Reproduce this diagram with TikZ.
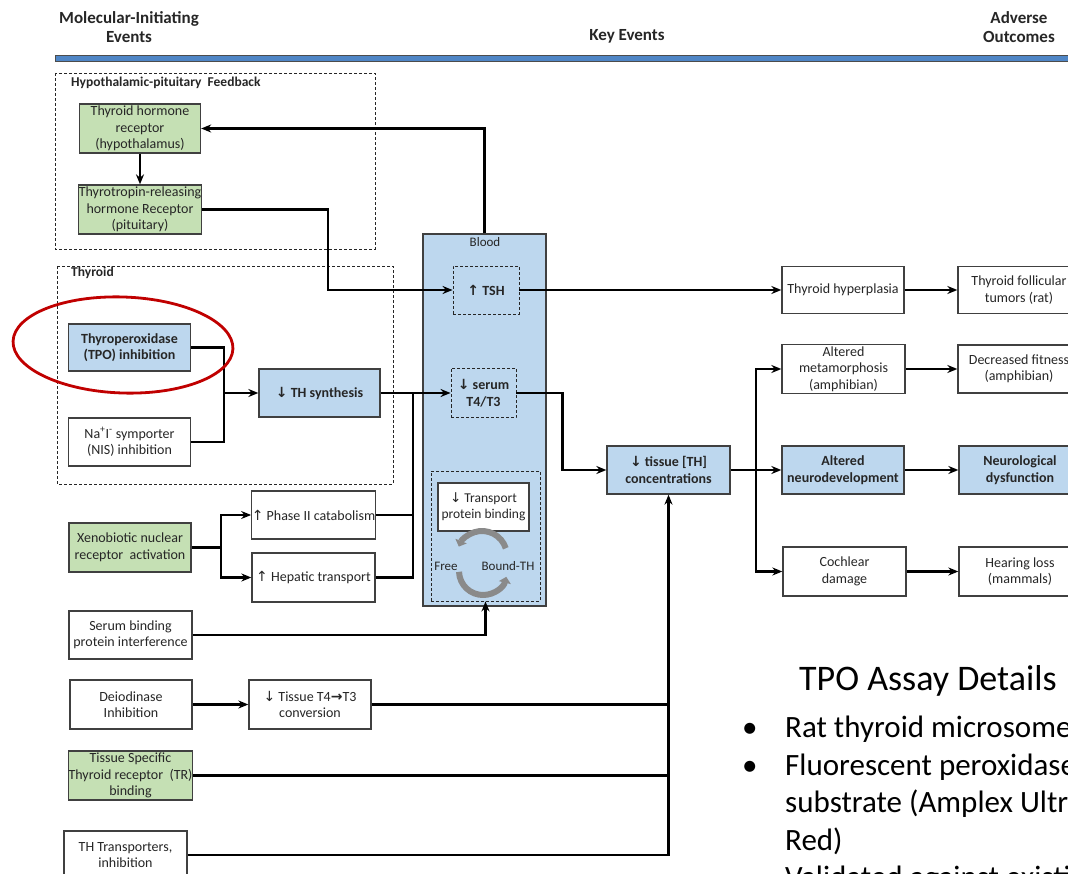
\documentclass[tikz,border=0pt]{standalone}
\usepackage{fontspec}
\setmainfont{Carlito}
\newfontfamily\arrowfont{DejaVu Sans}
\usetikzlibrary{arrows.meta}
\definecolor{lblue}{HTML}{BDD7EE}
\definecolor{grn}{HTML}{C5E0B4}
\definecolor{edge}{HTML}{404040}
\definecolor{band}{HTML}{4F86C6}
\definecolor{ringred}{HTML}{C00000}
\definecolor{cyc}{HTML}{8A8A8A}
\newcommand\boxfont{\fontsize{14}{16.5}\selectfont}
\newcommand\uarr{{\arrowfont ↑}}
\newcommand\darr{{\arrowfont ↓}}
\newcommand\rarr{{\arrowfont →}}

\begin{document}
\begin{tikzpicture}[x=1pt,y=-1pt,
  box/.style={draw=edge, line width=1.3pt, align=center, inner sep=0pt,
    text=black!85, font=\boxfont, minimum width=122pt, minimum height=48pt},
  wbox/.style={box, fill=white},
  gbox/.style={box, fill=grn},
  bbox/.style={box, fill=lblue, font=\boxfont\bfseries},
  dashbox/.style={draw=black!85, line width=0.9pt, dash pattern=on 3pt off 2pt},
  grouplabel/.style={anchor=base west, inner sep=0pt, font=\fontsize{13.5}{15}\selectfont\bfseries, text=black!85},
  head/.style={align=center, inner sep=0pt, font=\fontsize{17}{19.5}\selectfont\bfseries, text=black!85},
  conn/.style={line width=2.2pt, black},
  arr/.style={conn, -{Stealth[length=10pt,width=8pt]}},
  cycarr/.style={line width=6pt, cyc, -{Triangle[length=6pt,width=12pt]}},
  bigtext/.style={anchor=base west, inner sep=0pt, font=\fontsize{31}{37.5}\selectfont, text=black},
]
\useasboundingbox (0,0) rectangle (1068,874);
\clip (0,0) rectangle (1068,874);

% column headings and banner
\node[head] (hmie) at (129,27) {Molecular-Initiating\\Events};
\node[head] (hke) at (627,36.5) {Key Events};
\node[head] (hao) at (1019,27) {Adverse\\Outcomes};
\filldraw[fill=band, draw=black!70, line width=0.8pt] (55,55.5) rectangle (1075,61);

% group frames
\draw[dashbox] (55,73) rectangle (375,249);
\node[grouplabel] (lhpf) at (71,87) {Hypothalamic-pituitary\ \ Feedback};
\draw[dashbox] (57,266) rectangle (393,484);
\node[grouplabel] (lthy) at (71,277) {Thyroid};

% blood compartment
\node[draw=edge, line width=1.3pt, fill=lblue, minimum width=123pt, minimum height=372pt] (blood) at (484.5,420) {};
\node[inner sep=0pt, font=\fontsize{13}{15}\selectfont, text=black!85] (lblood) at (485,242) {Blood};
\node[dashbox, minimum width=66pt, minimum height=48pt, align=center, font=\boxfont\bfseries, text=black!85] (tsh) at (486,290) {\uarr\ TSH};
\node[dashbox, minimum width=65pt, minimum height=49pt, align=center, font=\boxfont\bfseries, text=black!85, inner sep=0pt] (serum) at (483.5,393) {\darr\ serum\\T4/T3};
\node[dashbox, minimum width=109pt, minimum height=130pt] (pool) at (485.5,536) {};
\node[wbox, minimum width=91pt, minimum height=48pt, font=\fontsize{13.5}{16}\selectfont] (tpb) at (483.5,507) {\darr\ Transport\\protein binding};
\node[inner sep=0pt, font=\fontsize{13}{15}\selectfont, text=black!85] (free) at (446,566) {Free};
\node[inner sep=0pt, font=\fontsize{13}{15}\selectfont, text=black!85] (bound) at (508,566) {Bound-TH};
\draw[cycarr] (482,556) ++(-18:25) arc[start angle=-18, end angle=-158, radius=25];
\draw[cycarr] (483,571) ++(178:24) arc[start angle=178, end angle=14, radius=24];

% molecular initiating events
\node[gbox, minimum width=121pt, minimum height=49pt] (trh) at (140,128.5) {Thyroid hormone\\receptor\\(hypothalamus)};
\node[gbox, minimum width=121pt, minimum height=49pt] (trhr) at (140,209.5) {Thyrotropin-releasing\\hormone Receptor\\(pituitary)};
\node[bbox, minimum height=47pt] (tpo) at (129.5,347.5) {Thyroperoxidase\\(TPO) inhibition};
\node[wbox] (nis) at (129.5,442) {Na\textsuperscript{+}I\textsuperscript{-} symporter\\(NIS) inhibition};
\node[bbox, minimum width=121pt] (ths) at (319.5,393) {\darr\ TH synthesis};
\node[gbox, minimum height=49pt] (xeno) at (130,547.5) {Xenobiotic nuclear\\receptor\ \ activation};
\node[wbox, minimum width=123pt] (ph2) at (313.5,515) {\uarr\ Phase II catabolism};
\node[wbox, minimum width=123pt, minimum height=49pt] (hep) at (313.5,577.5) {\uarr\ Hepatic transport};
\node[wbox, minimum width=123pt] (sbp) at (130.5,635) {Serum binding\\protein interference};
\node[wbox, minimum height=49pt] (deio) at (131,704.5) {Deiodinase\\Inhibition};
\node[wbox, minimum height=49pt] (tt43) at (310,704.5) {\darr\ Tissue T4{\bfseries\rarr}T3\\conversion};
\node[gbox, minimum width=123pt, minimum height=49pt] (tsr) at (130.5,775.5) {Tissue Specific\\Thyroid receptor\ \ (TR)\\binding};
\node[wbox, minimum width=123pt] (thtr) at (125.5,855) {TH Transporters,\\inhibition};

% key events and adverse outcomes
\node[bbox, minimum width=123pt] (tissue) at (668.5,470) {\darr\ tissue [TH]\\concentrations};
\node[wbox, minimum height=47pt] (hyp) at (843,290) {Thyroid hyperplasia};
\node[wbox, minimum height=47pt] (tumor) at (1019,290) {Thyroid follicular\\tumors (rat)};
\node[wbox, minimum width=123pt, minimum height=49pt] (meta) at (843.5,369) {Altered\\metamorphosis\\(amphibian)};
\node[wbox] (fit) at (1019,369) {Decreased fitness\\(amphibian)};
\node[bbox] (neuro) at (843,470) {Altered\\neurodevelopment};
\node[bbox] (neurd) at (1020,470) {Neurological\\dysfunction};
\node[wbox, minimum width=123pt, minimum height=49pt] (coch) at (844.5,571.5) {Cochlear\\damage};
\node[wbox, minimum height=49pt] (hear) at (1020,571.5) {Hearing loss\\(mammals)};

% junction points
\coordinate (tj) at (224,393);
\coordinate (jn) at (413,393);
\coordinate (xj) at (221,547.5);
\coordinate (oj) at (756,470);

% feedback loop
\draw[arr] (blood.north) |- (trh.east);
\draw[arr] (trh.south) -- (trhr.north);
\draw[arr] (trhr.east) -- ++(126,0) |- (tsh.west);

% thyroid synthesis
\draw[conn] (tpo.east) -| (tj);
\draw[conn] (nis.east) -| (tj);
\draw[arr] (tj) -- (ths.west);
\draw[arr] (ths.east) -- (serum.west);

% hepatic pathway
\draw[conn] (xeno.east) -- (xj);
\draw[arr] (xj) |- (ph2.west);
\draw[arr] (xj) |- (hep.west);
\draw[conn] (ph2.east) -| (jn);
\draw[conn] (hep.east) -| (jn);
\draw[arr] (sbp.east) -| (pool.south);

% peripheral pathway into tissue
\draw[arr] (deio.east) -- (tt43.west);
\draw[conn] (tt43.east) -- (tt43.east -| tissue.south);
\draw[conn] (tsr.east) -- (tsr.east -| tissue.south);
\draw[arr] (thtr.east) -| (tissue.south);
\draw[arr] (serum.east) -- ++(46,0) |- (tissue.west);

% outcomes
\draw[arr] (tsh.east) -- (hyp.west);
\draw[arr] (hyp.east) -- (tumor.west);
\draw[arr] (tissue.east) -- (neuro.west);
\draw[arr] (oj) |- (meta.west);
\draw[arr] (oj) |- (coch.west);
\draw[arr] (meta.east) -- (fit.west);
\draw[arr] (neuro.east) -- (neurd.west);
\draw[arr] (coch.east) -- (hear.west);

% highlight ring
\draw[ringred, line width=2.8pt, rotate around={-2:(123,345)}] (123,345) ellipse [x radius=110, y radius=48];

% assay notes
\node[anchor=base west, inner sep=0pt, font=\fontsize{36}{43}\selectfont, text=black] (title) at (799,690) {TPO Assay Details};
\node[bigtext] (bu1) at (742,737) {•};
\node[bigtext] (t1) at (785,737) {Rat thyroid microsomes};
\node[bigtext] (bu2) at (742,775) {•};
\node[bigtext] (t2) at (785,775) {Fluorescent peroxidase};
\node[bigtext] (t3) at (785,812.5) {substrate (Amplex Ultra};
\node[bigtext] (t4) at (785,850) {Red)};
\node[bigtext] (t5) at (785,887.5) {Validated against existing};
\end{tikzpicture}
\end{document}
